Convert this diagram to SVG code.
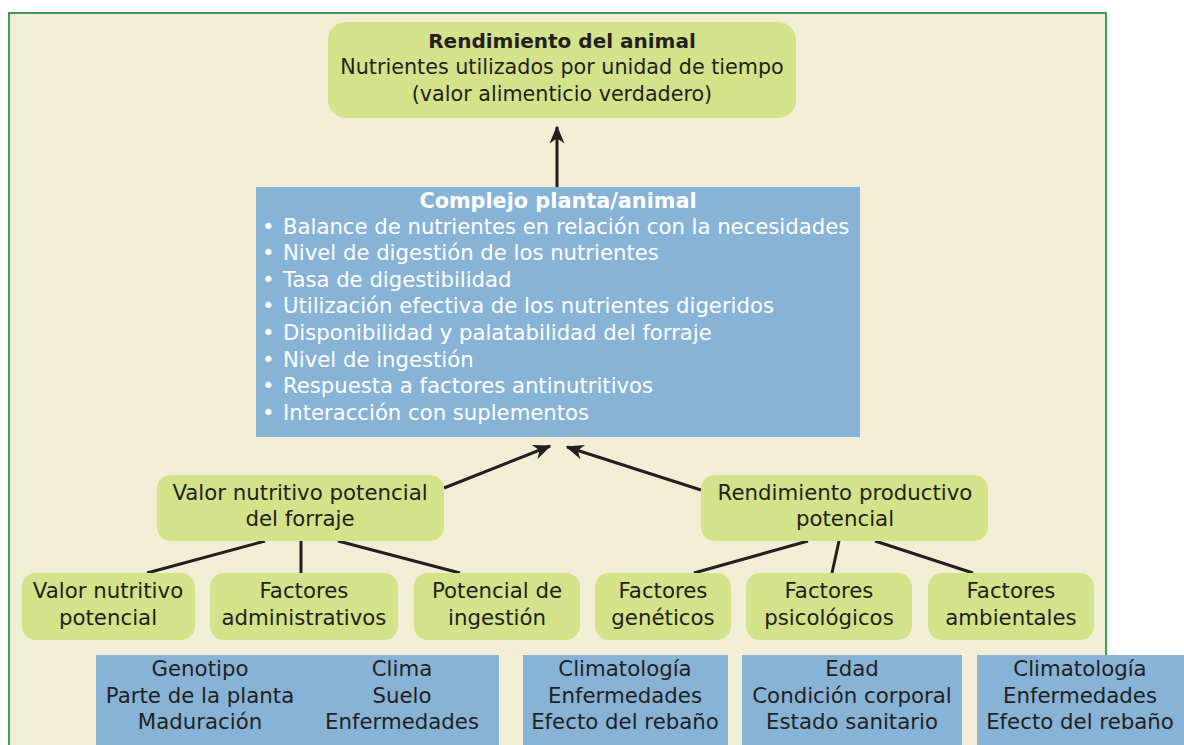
<svg xmlns="http://www.w3.org/2000/svg" width="1184" height="745" viewBox="0 0 1184 745">
<defs>
<marker id="ah" viewBox="0 0 12 10" refX="11" refY="5" markerWidth="6" markerHeight="5" markerUnits="strokeWidth" orient="auto">
<path d="M0,0 L12,5 L0,10 L3.5,5 z" fill="#231f20"/>
</marker>
<style>
.t{font-family:"DejaVu Sans","Liberation Sans",sans-serif;font-size:21.3px;fill:#231f20;text-anchor:middle}
.top{font-size:20.7px}
.b{font-weight:bold}
.tb{font-size:20px}
.w{fill:#ffffff}
.wl{font-family:"DejaVu Sans","Liberation Sans",sans-serif;font-size:21.2px;fill:#ffffff}
.g{fill:#d4e28a}
.bl{fill:#87b3d7}
.c{stroke:#231f20;stroke-width:3;fill:none}
</style>
</defs>
<rect x="0" y="0" width="1184" height="745" fill="#ffffff"/>
<rect x="9" y="13" width="1097" height="760" fill="#f2eed6" stroke="#3f9b57" stroke-width="2"/>

<g id="connectors">
<line class="c" x1="557" y1="187" x2="557" y2="127" marker-end="url(#ah)"/>
<line class="c" x1="444" y1="488" x2="550" y2="446" marker-end="url(#ah)"/>
<line class="c" x1="701" y1="490" x2="567" y2="447" marker-end="url(#ah)"/>
<line class="c" x1="265" y1="541" x2="147" y2="573"/>
<line class="c" x1="301" y1="541" x2="301" y2="573"/>
<line class="c" x1="338" y1="541" x2="460" y2="573"/>
<line class="c" x1="808" y1="541" x2="694" y2="573"/>
<line class="c" x1="839" y1="541" x2="832" y2="573"/>
<line class="c" x1="875" y1="541" x2="973" y2="573"/>
</g>

<g id="n-rendimiento-animal">
<rect class="g" x="328" y="22" width="468" height="96" rx="18"/>
<text class="t b tb" x="562" y="48">Rendimiento del animal</text>
<text class="t top" x="562" y="74">Nutrientes utilizados por unidad de tiempo</text>
<text class="t top" x="562" y="101">(valor alimenticio verdadero)</text>
</g>

<g id="n-complejo">
<rect class="bl" x="256" y="187" width="604" height="250"/>
<text class="t b w" x="558" y="208" style="font-size:20.8px">Complejo planta/animal</text>
<g class="wl">
<text x="262" y="234">•</text><text x="283" y="234">Balance de nutrientes en relación con la necesidades</text>
<text x="262" y="260">•</text><text x="283" y="260">Nivel de digestión de los nutrientes</text>
<text x="262" y="287">•</text><text x="283" y="287">Tasa de digestibilidad</text>
<text x="262" y="313">•</text><text x="283" y="313">Utilización efectiva de los nutrientes digeridos</text>
<text x="262" y="340">•</text><text x="283" y="340">Disponibilidad y palatabilidad del forraje</text>
<text x="262" y="367">•</text><text x="283" y="367">Nivel de ingestión</text>
<text x="262" y="393">•</text><text x="283" y="393">Respuesta a factores antinutritivos</text>
<text x="262" y="420">•</text><text x="283" y="420">Interacción con suplementos</text>
</g>
</g>

<g id="n-valor-forraje">
<rect class="g" x="157" y="475" width="287" height="66" rx="14"/>
<text class="t" x="300" y="500">Valor nutritivo potencial</text>
<text class="t" x="300" y="526">del forraje</text>
</g>

<g id="n-rendimiento-productivo">
<rect class="g" x="701" y="475" width="287" height="66" rx="14"/>
<text class="t" x="845" y="500">Rendimiento productivo</text>
<text class="t" x="845" y="526">potencial</text>
</g>

<g id="n-valor-nutritivo">
<rect class="g" x="22" y="573" width="173" height="67" rx="14"/>
<text class="t" x="108" y="598">Valor nutritivo</text>
<text class="t" x="108" y="625">potencial</text>
</g>
<g id="n-factores-admin">
<rect class="g" x="210" y="573" width="188" height="67" rx="14"/>
<text class="t" x="304" y="598">Factores</text>
<text class="t" x="304" y="625">administrativos</text>
</g>
<g id="n-potencial-ingestion">
<rect class="g" x="414" y="573" width="166" height="67" rx="14"/>
<text class="t" x="497" y="598">Potencial de</text>
<text class="t" x="497" y="625">ingestión</text>
</g>
<g id="n-factores-geneticos">
<rect class="g" x="595" y="573" width="136" height="67" rx="14"/>
<text class="t" x="663" y="598">Factores</text>
<text class="t" x="663" y="625">genéticos</text>
</g>
<g id="n-factores-psicologicos">
<rect class="g" x="746" y="573" width="166" height="67" rx="14"/>
<text class="t" x="829" y="598">Factores</text>
<text class="t" x="829" y="625">psicológicos</text>
</g>
<g id="n-factores-ambientales">
<rect class="g" x="928" y="573" width="166" height="67" rx="14"/>
<text class="t" x="1011" y="598">Factores</text>
<text class="t" x="1011" y="625">ambientales</text>
</g>

<g id="n-lista-forraje">
<rect class="bl" x="96" y="655" width="403" height="90"/>
<text class="t" x="200" y="676">Genotipo</text>
<text class="t" x="200" y="703">Parte de la planta</text>
<text class="t" x="200" y="729">Maduración</text>
<text class="t" x="402" y="676">Clima</text>
<text class="t" x="402" y="703">Suelo</text>
<text class="t" x="402" y="729">Enfermedades</text>
</g>
<g id="n-lista-geneticos">
<rect class="bl" x="523" y="655" width="205" height="90"/>
<text class="t" x="625" y="676">Climatología</text>
<text class="t" x="625" y="703">Enfermedades</text>
<text class="t" x="625" y="729">Efecto del rebaño</text>
</g>
<g id="n-lista-psicologicos">
<rect class="bl" x="742" y="655" width="220" height="90"/>
<text class="t" x="852" y="676">Edad</text>
<text class="t" x="852" y="703">Condición corporal</text>
<text class="t" x="852" y="729">Estado sanitario</text>
</g>
<g id="n-lista-ambientales">
<rect class="bl" x="977" y="655" width="207" height="90"/>
<text class="t" x="1080" y="676">Climatología</text>
<text class="t" x="1080" y="703">Enfermedades</text>
<text class="t" x="1080" y="729">Efecto del rebaño</text>
</g>
</svg>
